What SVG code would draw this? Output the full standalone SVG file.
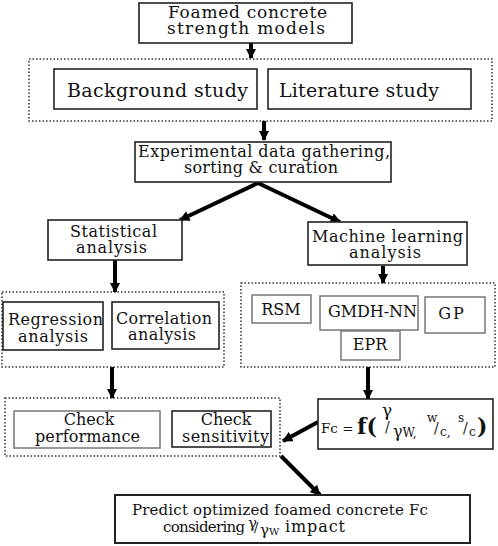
<svg xmlns="http://www.w3.org/2000/svg" width="498" height="546" viewBox="0 0 498 546">
<style>
text{font-family:"DejaVu Serif","Liberation Serif",serif;fill:#111;font-size:16px}
.c{text-anchor:middle}
.b{fill:#fff;stroke:#222;stroke-width:1.6}
.g{fill:#fff;stroke:#777;stroke-width:1.5}
.d{fill:none;stroke:#333;stroke-width:1.5;stroke-dasharray:1.5 2}
.a{stroke:#000;stroke-width:4;fill:none}
.m{font-size:19px}
.h{font-size:17px}
.s{font-size:12px}
.f{font-weight:bold;font-size:22px}
</style>
<defs>
<marker id="ah" viewBox="0 0 10 10" refX="9" refY="5" markerWidth="2.6" markerHeight="2.6" orient="auto" markerUnits="strokeWidth">
<path d="M0,0 L10,5 L0,10 z" fill="#000"/>
</marker>
</defs>
<rect width="498" height="546" fill="#fff"/>
<g id="connectors">
<line class="a" x1="251" y1="43" x2="251" y2="58" marker-end="url(#ah)"/>
<line class="a" x1="264" y1="121" x2="264" y2="140" marker-end="url(#ah)"/>
<line class="a" x1="258" y1="183" x2="180" y2="220" marker-end="url(#ah)"/>
<line class="a" x1="258" y1="183" x2="340" y2="222" marker-end="url(#ah)"/>
<line class="a" x1="115" y1="260" x2="115" y2="292" marker-end="url(#ah)"/>
<line class="a" x1="383" y1="266" x2="383" y2="283" marker-end="url(#ah)"/>
<line class="a" x1="112" y1="367" x2="112" y2="398" marker-end="url(#ah)"/>
<line class="a" x1="368" y1="367" x2="368" y2="399" marker-end="url(#ah)"/>
<line class="a" x1="318" y1="422" x2="283" y2="441" marker-end="url(#ah)"/>
<line class="a" x1="281" y1="456" x2="320" y2="495" marker-end="url(#ah)"/>
</g>
<g id="n1"><rect class="b" x="139" y="3" width="213" height="40"/><text class="h" x="168" y="18" textLength="159">Foamed concrete</text><text class="h" x="167" y="34" textLength="158">strength models</text></g>
<g id="grp1"><rect class="d" x="29" y="59" width="463" height="62"/></g>
<g id="n2"><rect class="b" x="54" y="69" width="203" height="40"/><text class="m" x="67" y="97" textLength="181">Background study</text></g>
<g id="n3"><rect class="b" x="268" y="69" width="203" height="40"/><text class="m" x="279" y="97" textLength="160">Literature study</text></g>
<g id="n4"><rect class="b" x="135" y="142" width="256" height="40"/><text x="138" y="157" textLength="252">Experimental data gathering,</text><text x="184" y="173" textLength="154">sorting &amp; curation</text></g>
<g id="n5"><rect class="b" x="48" y="220" width="134" height="40"/><text x="70" y="237" textLength="87">Statistical</text><text x="76" y="253" textLength="71">analysis</text></g>
<g id="n6"><rect class="b" x="308" y="222" width="159" height="43"/><text x="312" y="242" textLength="151">Machine learning</text><text x="349" y="258" textLength="72">analysis</text></g>
<g id="grp2"><rect class="d" x="2" y="292" width="222" height="75"/></g>
<g id="n7"><rect class="b" x="3" y="302" width="100" height="48"/><text x="8" y="325" textLength="95">Regression</text><text x="18" y="342" textLength="70">analysis</text></g>
<g id="n8"><rect class="b" x="112" y="302" width="107" height="47"/><text x="116" y="324" textLength="96">Correlation</text><text x="128" y="340" textLength="68">analysis</text></g>
<g id="grp3"><rect class="d" x="241" y="283" width="254" height="84"/></g>
<g id="n9"><rect class="g" x="252" y="295" width="59" height="28"/><text class="c" x="281" y="315">RSM</text></g>
<g id="n10"><rect class="g" x="320" y="296" width="98" height="34"/><text x="328" y="317" textLength="89">GMDH-NN</text></g>
<g id="n11"><rect class="g" x="425" y="297" width="60" height="36"/><text class="c" x="452" y="319" style="letter-spacing:2px">GP</text></g>
<g id="n12"><rect class="g" x="341" y="331" width="59" height="29"/><text class="c" x="370" y="350">EPR</text></g>
<g id="grp4"><rect class="d" x="5" y="398" width="275" height="58"/></g>
<g id="n13"><rect class="g" x="14" y="411" width="146" height="37"/><text class="c" x="89" y="425">Check</text><text x="35" y="442" textLength="105">performance</text></g>
<g id="n14"><rect class="b" x="172" y="411" width="99" height="36"/><text class="c" x="226" y="425">Check</text><text x="182" y="442" textLength="87">sensitivity</text></g>
<g id="n15"><rect class="b" x="318" y="399" width="175" height="50"/>
<text x="321" y="433" style="font-size:13.5px">Fc =</text>
<text class="f" x="357" y="434">f(</text>
<text x="382" y="416" style="font-size:17px">γ</text>
<text x="385" y="432" style="font-size:14px">/</text>
<text x="393" y="437" style="font-size:16px">γ<tspan class="s">W,</tspan></text>
<text class="s" x="427" y="422">w</text>
<text x="434" y="433" style="font-size:14px">/</text>
<text class="s" x="440" y="436">c,</text>
<text class="s" x="458" y="422">s</text>
<text x="463" y="433" style="font-size:14px">/</text>
<text class="s" x="469" y="436">c</text>
<text class="f" x="477" y="434">)</text>
</g>
<g id="n16"><rect class="b" x="115" y="495" width="355" height="48" style="stroke-width:2"/><text x="132" y="515" style="font-size:15px" textLength="296">Predict optimized foamed concrete Fc</text><text x="163" y="532" style="font-size:15px" textLength="82">considering</text>
<text x="248" y="528" style="font-size:15px">γ</text><text x="254" y="532" style="font-size:13px">/</text><text x="260" y="535" style="font-size:15px">γ<tspan style="font-size:10px">W</tspan></text>
<text x="285" y="532" style="font-size:16px" textLength="60">impact</text></g>
</svg>
